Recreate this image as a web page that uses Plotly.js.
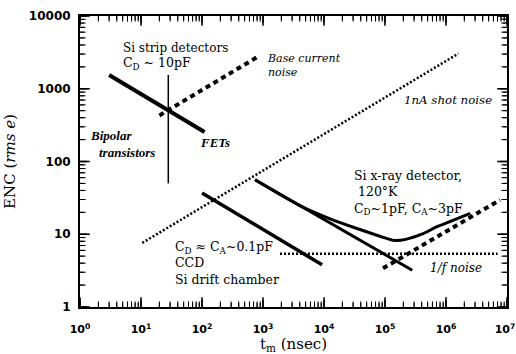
<!DOCTYPE html>
<html>
<head>
<meta charset="utf-8">
<script src="https://cdn.plot.ly/plotly-3.0.1.min.js"></script>
<style>html,body{margin:0;padding:0;background:#fff;}#chart{width:516px;height:354px;}</style>
</head>
<body>
<div id="chart"></div>
<script>
// ---- data (t_m in nsec, ENC in rms e) ----
const fetX = [3, 110];
const fetY = [1550, 255];

const stripX = [28, 28];
const stripY = [1550, 50];

const baseX = [20, 800];
const baseY = [430, 2720];

const shotX = [10.5, 1.6e6];
const shotY = [7.6, 3050];

const ccdX = [100, 9300];
const ccdY = [37, 3.8];

const xrayLineX = [740, 2.8e5];
const xrayLineY = [56, 3.2];

const xrayTotX = [740, 4000, 1.26e4, 3.9e4, 1e5, 1.45e5, 2.2e5, 4e5, 7e5, 1.3e6, 2.5e6];
const xrayTotY = [56, 24.8, 16.3, 11.6, 8.9, 8.2, 8.5, 10.0, 12.6, 15.5, 19.4];

const leakX = [9.3e4, 7.7e6];
const leakY = [3.4, 29.6];

const flickerX = [1900, 7e6];
const flickerY = [5.4, 5.4];

const xTickVals = [1, 10, 100, 1e3, 1e4, 1e5, 1e6, 1e7];
const xTickText = ['10<sup>0</sup>','10<sup>1</sup>','10<sup>2</sup>','10<sup>3</sup>','10<sup>4</sup>','10<sup>5</sup>','10<sup>6</sup>','10<sup>7</sup>\u00a0'];
const yTickVals = [1, 10, 100, 1000, 10000];
const yTickText = ['1','10','100','1000','10000'];
const minorDigits = [2, 3, 4, 5, 6, 7, 8, 9];

const W = 516, H = 354, M = {l: 80, r: 9, t: 16, b: 47};
const pxPerDecX = (W - M.l - M.r) / 7;
const pxPerDecY = (H - M.t - M.b) / 4;

function line(x, y, width, dash) {
  return {x: x, y: y, type: 'scatter', mode: 'lines', showlegend: false, hoverinfo: 'skip',
          line: {color: '#000', width: width, dash: dash || 'solid'}};
}

// minor tick values built from the decade ticks
function minorVals(decades) {
  const out = [];
  decades.slice(0, -1).forEach(d => minorDigits.forEach(m => out.push(d * m)));
  return out;
}

const yLo = yTickVals[0], yHi = yTickVals[yTickVals.length - 1];
const xLo = xTickVals[0], xHi = xTickVals[xTickVals.length - 1];

// inside tick marks on all four sides, as line segments in data space
function tickTrace(xv, yv, len, w) {
  const fy = Math.pow(10, len / pxPerDecY), fx = Math.pow(10, len / pxPerDecX);
  const X = [], Y = [];
  xv.forEach(v => { X.push(v, v, null, v, v, null); Y.push(yLo, yLo * fy, null, yHi, yHi / fy, null); });
  yv.forEach(v => { X.push(xLo, xLo * fx, null, xHi, xHi / fx, null); Y.push(v, v, null, v, v, null); });
  return {x: X, y: Y, type: 'scatter', mode: 'lines', showlegend: false, hoverinfo: 'skip',
          connectgaps: false, line: {color: '#000', width: w}};
}
// the same tick marks as line markers centred on the frame (outer half clipped)
function tickMarkers(xv, yv, len, w) {
  const X = [], Y = [], S = [];
  xv.forEach(v => { X.push(v, v); Y.push(yLo, yHi); S.push('line-ns', 'line-ns'); });
  yv.forEach(v => { X.push(xLo, xHi); Y.push(v, v); S.push('line-ew', 'line-ew'); });
  return {x: X, y: Y, type: 'scatter', mode: 'markers', showlegend: false, hoverinfo: 'skip', cliponaxis: true,
          marker: {symbol: S, size: 2 * len, color: '#000', line: {color: '#000', width: w}}};
}

const traces = [
  tickTrace(xTickVals, yTickVals, 7, 1.5),
  tickTrace(minorVals(xTickVals), minorVals(yTickVals), 4, 1),
  tickMarkers(xTickVals, yTickVals, 7, 1.5),
  tickMarkers(minorVals(xTickVals), minorVals(yTickVals), 4, 1),
  line(fetX, fetY, 4),
  line(stripX, stripY, 1.5),
  line(baseX, baseY, 4, '5px,4px'),
  line(shotX, shotY, 2.5, '2px,2px'),
  line(ccdX, ccdY, 3.5),
  line(xrayLineX, xrayLineY, 3),
  Object.assign(line(xrayTotX, xrayTotY, 3), {line: {color: '#000', width: 3, shape: 'spline', smoothing: 0.8}}),
  line(leakX, leakY, 4, '5px,4px'),
  line(flickerX, flickerY, 2.5, '2px,2px')
];

const serif = 'DejaVu Serif, Liberation Serif, serif';
const times = 'Liberation Serif, serif';
function f(size, style, weight, fam) {
  return {family: fam || serif, size: size, color: '#000', style: style || 'normal', weight: weight || 'normal'};
}
function ann(text, x, y, font) {
  return {text: text, x: x, y: y, xref: 'x', yref: 'y', showarrow: false,
    xanchor: 'left', yanchor: 'middle', align: 'left', font: font || f(12.5)};
}

const annotations = [
  ann('Si strip detectors', 0.672, 3.56, f(12)),
  ann('C<sub>D</sub> ~ 10pF', 0.672, 3.354, f(12.5)),
  ann('Base current<br>noise', 3.03, 3.32, f(11, 'italic')),
  ann('Bipolar', 0.13, 2.364, f(13, 'italic', 'bold', times)),
  ann('transistors', 0.28, 2.13, f(13, 'italic', 'bold', times)),
  ann('FETs', 1.934, 2.268, f(13, 'italic', 'bold', times)),
  ann('1nA shot noise', 5.28, 2.845, f(11.8, 'italic')),
  ann('Si x-ray detector,<br> 120°K<br>C<sub>D</sub>~1pF, C<sub>A</sub>~3pF', 4.46, 1.567, f(12.5)),
  ann('C<sub>D</sub> ≈ C<sub>A</sub>~0.1pF<br>CCD<br>Si drift chamber', 1.525, 0.605, f(12.5)),
  ann('1/f noise', 5.70, 0.536, f(12, 'italic'))
];

const axisCommon = {
  type: 'log', showgrid: false, zeroline: false, showline: true, linewidth: 2, linecolor: '#000',
  mirror: true, ticks: '', tickmode: 'array', ticklabeloverflow: 'allow'
};

const layout = {
  width: W, height: H,
  margin: M,
  paper_bgcolor: '#fff', plot_bgcolor: '#fff',
  xaxis: Object.assign({}, axisCommon, {
    range: [-0.0005, 7.0005], tickvals: xTickVals, ticktext: xTickText, ticklabelstandoff: 11,
    tickfont: {family: 'DejaVu Sans, sans-serif', size: 11, color: '#000', weight: 'bold'},
    title: {text: 't<sub>m</sub> (nsec)', standoff: 4, font: {family: serif, size: 15, color: '#000'}}
  }),
  yaxis: Object.assign({}, axisCommon, {
    range: [-0.0005, 4.0005], tickvals: yTickVals, ticktext: yTickText, ticklabelstandoff: 5,
    tickfont: {family: 'DejaVu Sans, sans-serif', size: 12, color: '#000', weight: 'bold'},
    title: {text: 'ENC (<i>rms e</i>)', standoff: 10, font: {family: serif, size: 15, color: '#000'}}
  }),
  annotations: annotations
};

Plotly.newPlot('chart', traces, layout, {displayModeBar: false, staticPlot: true});
</script>
</body>
</html>
